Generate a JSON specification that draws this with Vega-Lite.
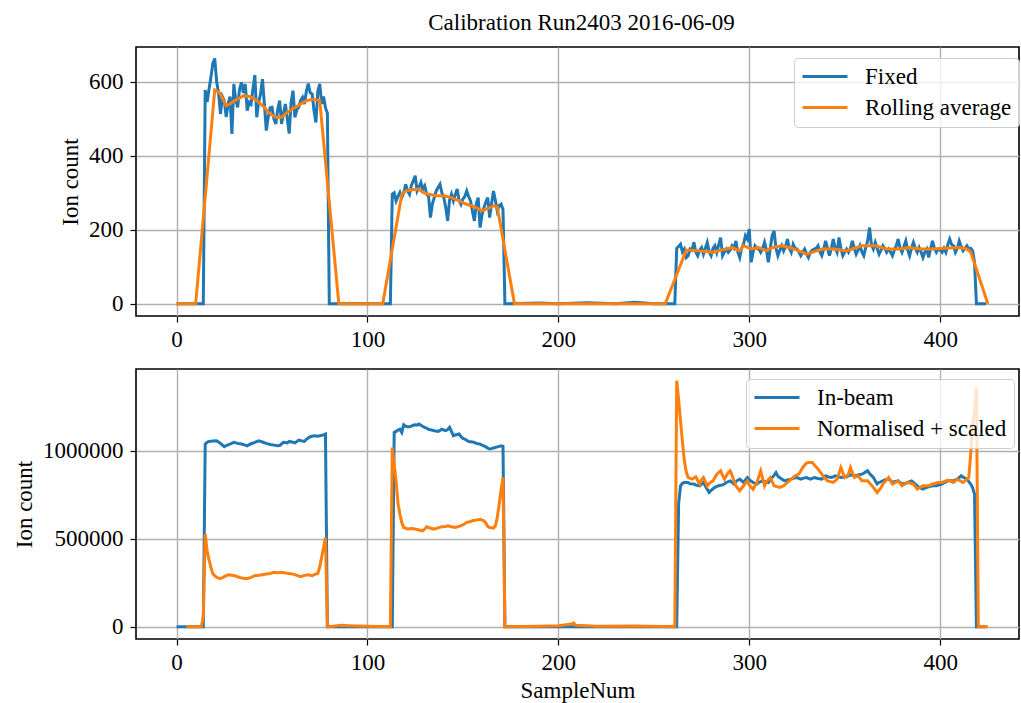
{
"$schema": "https://vega.github.io/schema/vega-lite/v6.json",
"padding": {"left": 12, "top": 11, "right": 0, "bottom": 0},
"background": "white",
"spacing": 16,
"config": {
  "font": "Liberation Serif",
  "view": {"stroke": "black", "strokeWidth": 1.6},
  "axis": {"labelFont": "Liberation Serif", "titleFont": "Liberation Serif", "labelFontSize": 23, "titleFontSize": 23, "titleFontWeight": "normal", "labelColor": "black", "titleColor": "black", "domain": false, "tickColor": "black", "tickSize": 6, "tickWidth": 1.2, "gridColor": "#b0b0b0", "gridWidth": 1.4, "gridOpacity": 1, "labelPadding": 6},
  "axisY": {"titlePadding": 6, "labelPadding": 7},
  "legend": {"labelFont": "Liberation Serif", "labelFontSize": 23, "labelColor": "black", "symbolType": "M-1,0L3.5,0", "symbolStrokeWidth": 3, "symbolSize": 400, "labelOffset": 41, "padding": 7, "rowPadding": 7, "fillColor": "rgba(255,255,255,0.8)", "strokeColor": "#cccccc", "cornerRadius": 4, "labelLimit": 400},
  "title": {"font": "Liberation Serif", "fontSize": 23, "fontWeight": "normal", "color": "black"}
},
"resolve": {"scale": {"color": "independent"}, "legend": {"color": "independent"}},
"datasets": {
"topFixed": [{"x":0,"y":0},{"x":14,"y":0},{"x":15,"y":578},{"x":16,"y":545},{"x":17,"y":580},{"x":18,"y":612},{"x":19,"y":650},{"x":20,"y":663},{"x":21,"y":600},{"x":22,"y":570},{"x":23,"y":513},{"x":24,"y":560},{"x":25,"y":549},{"x":26,"y":505},{"x":27,"y":540},{"x":28,"y":560},{"x":29,"y":459},{"x":30,"y":594},{"x":31,"y":550},{"x":32,"y":531},{"x":33,"y":580},{"x":34,"y":598},{"x":35,"y":570},{"x":36,"y":594},{"x":37,"y":522},{"x":38,"y":545},{"x":39,"y":540},{"x":40,"y":580},{"x":41,"y":618},{"x":42,"y":504},{"x":43,"y":545},{"x":44,"y":567},{"x":45,"y":607},{"x":46,"y":540},{"x":47,"y":468},{"x":48,"y":504},{"x":49,"y":530},{"x":50,"y":531},{"x":51,"y":500},{"x":52,"y":486},{"x":53,"y":525},{"x":54,"y":549},{"x":55,"y":486},{"x":56,"y":515},{"x":57,"y":540},{"x":58,"y":500},{"x":59,"y":460},{"x":60,"y":545},{"x":61,"y":576},{"x":62,"y":504},{"x":63,"y":525},{"x":64,"y":531},{"x":65,"y":550},{"x":66,"y":558},{"x":67,"y":540},{"x":68,"y":575},{"x":69,"y":595},{"x":70,"y":570},{"x":71,"y":567},{"x":72,"y":522},{"x":73,"y":490},{"x":74,"y":575},{"x":75,"y":594},{"x":76,"y":540},{"x":77,"y":560},{"x":78,"y":530},{"x":79,"y":515},{"x":80,"y":0},{"x":95,"y":1},{"x":100,"y":0},{"x":112,"y":0},
{"x":113,"y":296},{"x":114,"y":300},{"x":115,"y":278},{"x":116,"y":290},{"x":117,"y":301},{"x":118,"y":287},{"x":119,"y":300},{"x":120,"y":323},{"x":121,"y":305},{"x":122,"y":296},{"x":123,"y":320},{"x":124,"y":332},{"x":125,"y":346},{"x":126,"y":305},{"x":127,"y":315},{"x":128,"y":328},{"x":129,"y":310},{"x":130,"y":319},{"x":131,"y":296},{"x":132,"y":290},{"x":133,"y":233},{"x":134,"y":270},{"x":135,"y":287},{"x":136,"y":305},{"x":137,"y":314},{"x":138,"y":323},{"x":139,"y":300},{"x":140,"y":287},{"x":141,"y":260},{"x":142,"y":224},{"x":143,"y":280},{"x":144,"y":296},{"x":145,"y":278},{"x":146,"y":295},{"x":147,"y":310},{"x":148,"y":280},{"x":149,"y":269},{"x":150,"y":283},{"x":151,"y":290},{"x":152,"y":305},{"x":153,"y":290},{"x":154,"y":278},{"x":155,"y":250},{"x":156,"y":224},{"x":157,"y":270},{"x":158,"y":287},{"x":159,"y":206},{"x":160,"y":240},{"x":161,"y":260},{"x":162,"y":275},{"x":163,"y":287},{"x":164,"y":233},{"x":165,"y":270},{"x":166,"y":305},{"x":167,"y":280},{"x":168,"y":251},{"x":169,"y":265},{"x":170,"y":269},{"x":171,"y":255},{"x":172,"y":0},{"x":190,"y":2},{"x":200,"y":0},{"x":215,"y":3},{"x":230,"y":0},{"x":240,"y":4},{"x":250,"y":0},{"x":261,"y":0},
{"x":262,"y":150},{"x":263,"y":155},{"x":264,"y":161},{"x":265,"y":140},{"x":266,"y":148},{"x":267,"y":125},{"x":268,"y":130},{"x":269,"y":148},{"x":270,"y":145},{"x":271,"y":166},{"x":272,"y":140},{"x":273,"y":130},{"x":274,"y":145},{"x":275,"y":152},{"x":276,"y":134},{"x":277,"y":150},{"x":278,"y":166},{"x":279,"y":140},{"x":280,"y":130},{"x":281,"y":150},{"x":282,"y":157},{"x":283,"y":139},{"x":284,"y":160},{"x":285,"y":179},{"x":286,"y":130},{"x":287,"y":140},{"x":288,"y":148},{"x":289,"y":139},{"x":290,"y":145},{"x":291,"y":157},{"x":292,"y":150},{"x":293,"y":170},{"x":294,"y":140},{"x":295,"y":125},{"x":296,"y":150},{"x":297,"y":161},{"x":298,"y":184},{"x":299,"y":175},{"x":300,"y":202},{"x":301,"y":112},{"x":302,"y":140},{"x":303,"y":157},{"x":304,"y":150},{"x":305,"y":148},{"x":306,"y":139},{"x":307,"y":150},{"x":308,"y":166},{"x":309,"y":145},{"x":310,"y":112},{"x":311,"y":150},{"x":312,"y":184},{"x":313,"y":197},{"x":314,"y":150},{"x":315,"y":130},{"x":316,"y":145},{"x":317,"y":157},{"x":318,"y":143},{"x":319,"y":155},{"x":320,"y":175},{"x":321,"y":150},{"x":322,"y":139},{"x":323,"y":161},{"x":324,"y":150},{"x":325,"y":148},{"x":326,"y":140},{"x":327,"y":130},{"x":328,"y":140},{"x":329,"y":148},{"x":330,"y":135},{"x":331,"y":125},{"x":332,"y":139},{"x":333,"y":145},{"x":334,"y":148},{"x":335,"y":150},{"x":336,"y":157},{"x":337,"y":140},{"x":338,"y":130},{"x":339,"y":148},{"x":340,"y":170},{"x":341,"y":150},{"x":342,"y":130},{"x":343,"y":150},{"x":344,"y":175},{"x":345,"y":150},{"x":346,"y":139},{"x":347,"y":179},{"x":348,"y":150},{"x":349,"y":130},{"x":350,"y":140},{"x":351,"y":148},{"x":352,"y":139},{"x":353,"y":150},{"x":354,"y":170},{"x":355,"y":150},{"x":356,"y":134},{"x":357,"y":145},{"x":358,"y":157},{"x":359,"y":140},{"x":360,"y":130},{"x":361,"y":152},{"x":362,"y":170},{"x":363,"y":206},{"x":364,"y":160},{"x":365,"y":148},{"x":366,"y":166},{"x":367,"y":150},{"x":368,"y":134},{"x":369,"y":145},{"x":370,"y":157},{"x":371,"y":150},{"x":372,"y":139},{"x":373,"y":148},{"x":374,"y":140},{"x":375,"y":130},{"x":376,"y":145},{"x":377,"y":157},{"x":378,"y":175},{"x":379,"y":150},{"x":380,"y":139},{"x":381,"y":155},{"x":382,"y":170},{"x":383,"y":145},{"x":384,"y":130},{"x":385,"y":150},{"x":386,"y":166},{"x":387,"y":150},{"x":388,"y":139},{"x":389,"y":152},{"x":390,"y":140},{"x":391,"y":125},{"x":392,"y":140},{"x":393,"y":148},{"x":394,"y":125},{"x":395,"y":150},{"x":396,"y":170},{"x":397,"y":150},{"x":398,"y":139},{"x":399,"y":148},{"x":400,"y":145},{"x":401,"y":139},{"x":402,"y":150},{"x":403,"y":139},{"x":404,"y":160},{"x":405,"y":175},{"x":406,"y":160},{"x":407,"y":157},{"x":408,"y":139},{"x":409,"y":150},{"x":410,"y":170},{"x":411,"y":155},{"x":412,"y":143},{"x":413,"y":150},{"x":414,"y":157},{"x":415,"y":148},{"x":416,"y":150},{"x":417,"y":143},{"x":418,"y":112},{"x":419,"y":0},{"x":424,"y":0}],
"topRoll": [{"x":0,"y":0},{"x":10,"y":0},{"x":20,"y":578},{"x":22,"y":572},{"x":23,"y":567},{"x":26,"y":535},{"x":28,"y":540},{"x":30,"y":548},{"x":32,"y":553},{"x":35,"y":562},{"x":38,"y":560},{"x":40,"y":556},{"x":42,"y":549},{"x":44,"y":540},{"x":46,"y":531},{"x":48,"y":518},{"x":50,"y":510},{"x":52,"y":504},{"x":55,"y":504},{"x":58,"y":518},{"x":61,"y":527},{"x":63,"y":533},{"x":65,"y":540},{"x":68,"y":549},{"x":72,"y":553},{"x":75,"y":549},{"x":85,"y":0},{"x":108,"y":0},{"x":118,"y":296},{"x":120,"y":305},{"x":123,"y":308},{"x":127,"y":310},{"x":129,"y":301},{"x":132,"y":296},{"x":136,"y":292},{"x":140,"y":292},{"x":144,"y":287},{"x":148,"y":278},{"x":152,"y":269},{"x":157,"y":260},{"x":160,"y":251},{"x":164,"y":260},{"x":166,"y":265},{"x":168,"y":262},{"x":177,"y":0},{"x":256,"y":0},{"x":267,"y":145},{"x":270,"y":145},{"x":274,"y":143},{"x":281,"y":139},{"x":285,"y":145},{"x":288,"y":148},{"x":291,"y":152},{"x":295,"y":143},{"x":297,"y":157},{"x":301,"y":148},{"x":305,"y":152},{"x":309,"y":143},{"x":312,"y":152},{"x":317,"y":157},{"x":321,"y":152},{"x":326,"y":143},{"x":330,"y":134},{"x":333,"y":139},{"x":338,"y":148},{"x":344,"y":148},{"x":351,"y":143},{"x":355,"y":150},{"x":359,"y":157},{"x":366,"y":157},{"x":372,"y":148},{"x":379,"y":148},{"x":384,"y":152},{"x":389,"y":148},{"x":396,"y":148},{"x":403,"y":150},{"x":410,"y":152},{"x":414,"y":148},{"x":416,"y":140},{"x":425,"y":0}],
"botBeam": [{"x":0,"y":0},{"x":14,"y":0},{"x":15,"y":1038000},{"x":16,"y":1048000},{"x":17,"y":1053000},{"x":19,"y":1055000},{"x":21,"y":1057000},{"x":23,"y":1042000},{"x":25,"y":1023000},{"x":26,"y":1030000},{"x":28,"y":1038000},{"x":30,"y":1048000},{"x":32,"y":1042000},{"x":34,"y":1038000},{"x":36,"y":1032000},{"x":37,"y":1028000},{"x":39,"y":1040000},{"x":41,"y":1048000},{"x":43,"y":1057000},{"x":45,"y":1050000},{"x":47,"y":1042000},{"x":49,"y":1036000},{"x":51,"y":1032000},{"x":53,"y":1028000},{"x":54,"y":1030000},{"x":56,"y":1048000},{"x":58,"y":1045000},{"x":59,"y":1053000},{"x":61,"y":1048000},{"x":62,"y":1045000},{"x":64,"y":1061000},{"x":66,"y":1055000},{"x":67,"y":1053000},{"x":68,"y":1065000},{"x":70,"y":1080000},{"x":72,"y":1085000},{"x":74,"y":1082000},{"x":75,"y":1085000},{"x":77,"y":1090000},{"x":78,"y":1095000},{"x":79,"y":0},{"x":113,"y":0},{"x":114,"y":1104000},{"x":115,"y":1110000},{"x":116,"y":1118000},{"x":117,"y":1123000},{"x":118,"y":1104000},{"x":119,"y":1148000},{"x":120,"y":1140000},{"x":121,"y":1136000},{"x":122,"y":1136000},{"x":123,"y":1140000},{"x":124,"y":1145000},{"x":125,"y":1148000},{"x":126,"y":1146000},{"x":127,"y":1152000},{"x":128,"y":1145000},{"x":129,"y":1138000},{"x":130,"y":1133000},{"x":131,"y":1128000},{"x":132,"y":1122000},{"x":133,"y":1119000},{"x":135,"y":1114000},{"x":137,"y":1110000},{"x":138,"y":1116000},{"x":139,"y":1123000},{"x":140,"y":1118000},{"x":141,"y":1114000},{"x":142,"y":1120000},{"x":143,"y":1133000},{"x":144,"y":1110000},{"x":145,"y":1085000},{"x":146,"y":1090000},{"x":148,"y":1095000},{"x":149,"y":1080000},{"x":150,"y":1070000},{"x":151,"y":1066000},{"x":152,"y":1060000},{"x":153,"y":1053000},{"x":155,"y":1050000},{"x":156,"y":1048000},{"x":157,"y":1042000},{"x":158,"y":1040000},{"x":159,"y":1038000},{"x":160,"y":1032000},{"x":161,"y":1028000},{"x":162,"y":1022000},{"x":163,"y":1015000},{"x":164,"y":1010000},{"x":165,"y":1012000},{"x":166,"y":1016000},{"x":167,"y":1019000},{"x":168,"y":1022000},{"x":169,"y":1025000},{"x":170,"y":1028000},{"x":171,"y":1025000},{"x":172,"y":0},{"x":262,"y":0},{"x":263,"y":700000},{"x":264,"y":801000},{"x":265,"y":815000},{"x":266,"y":820000},{"x":268,"y":820000},{"x":269,"y":812000},{"x":271,"y":811000},{"x":272,"y":805000},{"x":274,"y":801000},{"x":275,"y":812000},{"x":276,"y":820000},{"x":277,"y":800000},{"x":279,"y":763000},{"x":280,"y":775000},{"x":282,"y":792000},{"x":283,"y":798000},{"x":284,"y":801000},{"x":286,"y":806000},{"x":287,"y":811000},{"x":288,"y":820000},{"x":290,"y":829000},{"x":291,"y":820000},{"x":292,"y":811000},{"x":293,"y":825000},{"x":295,"y":839000},{"x":296,"y":830000},{"x":297,"y":820000},{"x":298,"y":835000},{"x":299,"y":848000},{"x":300,"y":835000},{"x":302,"y":820000},{"x":303,"y":815000},{"x":304,"y":811000},{"x":305,"y":820000},{"x":307,"y":829000},{"x":308,"y":825000},{"x":310,"y":820000},{"x":311,"y":835000},{"x":312,"y":848000},{"x":313,"y":860000},{"x":314,"y":876000},{"x":315,"y":855000},{"x":317,"y":839000},{"x":318,"y":832000},{"x":319,"y":829000},{"x":320,"y":835000},{"x":322,"y":839000},{"x":323,"y":843000},{"x":325,"y":848000},{"x":326,"y":843000},{"x":327,"y":839000},{"x":328,"y":843000},{"x":330,"y":848000},{"x":331,"y":843000},{"x":332,"y":839000},{"x":334,"y":848000},{"x":335,"y":845000},{"x":336,"y":842000},{"x":338,"y":839000},{"x":339,"y":848000},{"x":340,"y":858000},{"x":341,"y":852000},{"x":343,"y":848000},{"x":344,"y":852000},{"x":345,"y":858000},{"x":347,"y":852000},{"x":348,"y":848000},{"x":349,"y":850000},{"x":351,"y":852000},{"x":352,"y":858000},{"x":353,"y":863000},{"x":354,"y":860000},{"x":356,"y":858000},{"x":357,"y":862000},{"x":359,"y":867000},{"x":360,"y":872000},{"x":361,"y":880000},{"x":362,"y":886000},{"x":363,"y":870000},{"x":365,"y":848000},{"x":366,"y":830000},{"x":367,"y":811000},{"x":368,"y":820000},{"x":370,"y":829000},{"x":371,"y":834000},{"x":373,"y":839000},{"x":374,"y":830000},{"x":375,"y":820000},{"x":376,"y":825000},{"x":378,"y":829000},{"x":379,"y":820000},{"x":380,"y":811000},{"x":382,"y":816000},{"x":383,"y":820000},{"x":385,"y":829000},{"x":386,"y":820000},{"x":388,"y":801000},{"x":389,"y":792000},{"x":391,"y":782000},{"x":392,"y":787000},{"x":393,"y":792000},{"x":395,"y":798000},{"x":396,"y":801000},{"x":398,"y":801000},{"x":399,"y":805000},{"x":401,"y":811000},{"x":402,"y":818000},{"x":404,"y":829000},{"x":405,"y":829000},{"x":407,"y":829000},{"x":408,"y":835000},{"x":409,"y":839000},{"x":410,"y":848000},{"x":411,"y":858000},{"x":412,"y":850000},{"x":414,"y":839000},{"x":415,"y":825000},{"x":416,"y":811000},{"x":417,"y":790000},{"x":418,"y":754000},{"x":419,"y":0},{"x":424,"y":0}],
"botNorm": [{"x":5,"y":0},{"x":13,"y":0},{"x":14,"y":60000},{"x":15,"y":527000},{"x":16,"y":432000},{"x":17,"y":380000},{"x":18,"y":337000},{"x":19,"y":300000},{"x":21,"y":280000},{"x":23,"y":273000},{"x":25,"y":285000},{"x":27,"y":295000},{"x":29,"y":292000},{"x":31,"y":288000},{"x":33,"y":280000},{"x":35,"y":276000},{"x":37,"y":273000},{"x":39,"y":280000},{"x":41,"y":290000},{"x":43,"y":293000},{"x":45,"y":295000},{"x":47,"y":300000},{"x":49,"y":303000},{"x":51,"y":309000},{"x":53,"y":307000},{"x":55,"y":309000},{"x":57,"y":305000},{"x":59,"y":303000},{"x":61,"y":299000},{"x":63,"y":292000},{"x":65,"y":284000},{"x":67,"y":292000},{"x":69,"y":295000},{"x":71,"y":290000},{"x":73,"y":300000},{"x":74,"y":303000},{"x":75,"y":340000},{"x":76,"y":394000},{"x":77,"y":450000},{"x":78,"y":507000},{"x":79,"y":0},{"x":82,"y":3000},{"x":86,"y":8000},{"x":90,"y":6000},{"x":95,"y":4000},{"x":100,"y":3000},{"x":112,"y":0},{"x":113,"y":1019000},{"x":114,"y":920000},{"x":115,"y":830000},{"x":116,"y":700000},{"x":117,"y":640000},{"x":118,"y":590000},{"x":119,"y":564000},{"x":121,"y":555000},{"x":123,"y":558000},{"x":125,"y":555000},{"x":127,"y":550000},{"x":129,"y":545000},{"x":130,"y":555000},{"x":131,"y":568000},{"x":133,"y":560000},{"x":135,"y":555000},{"x":137,"y":562000},{"x":139,"y":568000},{"x":141,"y":570000},{"x":142,"y":574000},{"x":144,"y":568000},{"x":146,"y":564000},{"x":148,"y":570000},{"x":149,"y":574000},{"x":151,"y":585000},{"x":152,"y":593000},{"x":154,"y":598000},{"x":155,"y":602000},{"x":157,"y":606000},{"x":159,"y":611000},{"x":161,"y":602000},{"x":162,"y":590000},{"x":163,"y":570000},{"x":164,"y":564000},{"x":166,"y":560000},{"x":167,"y":574000},{"x":168,"y":620000},{"x":169,"y":697000},{"x":170,"y":780000},{"x":171,"y":848000},{"x":172,"y":0},{"x":190,"y":3000},{"x":200,"y":5000},{"x":207,"y":15000},{"x":208,"y":21000},{"x":209,"y":8000},{"x":220,"y":3000},{"x":240,"y":4000},{"x":261,"y":0},{"x":262,"y":1398000},{"x":263,"y":1290000},{"x":264,"y":1170000},{"x":265,"y":1050000},{"x":266,"y":943000},{"x":267,"y":880000},{"x":268,"y":848000},{"x":270,"y":839000},{"x":272,"y":852000},{"x":273,"y":830000},{"x":274,"y":811000},{"x":275,"y":835000},{"x":276,"y":848000},{"x":278,"y":801000},{"x":279,"y":815000},{"x":281,"y":829000},{"x":283,"y":867000},{"x":285,"y":886000},{"x":286,"y":860000},{"x":287,"y":839000},{"x":289,"y":876000},{"x":290,"y":886000},{"x":291,"y":860000},{"x":292,"y":829000},{"x":293,"y":800000},{"x":295,"y":773000},{"x":297,"y":801000},{"x":299,"y":829000},{"x":300,"y":805000},{"x":302,"y":782000},{"x":304,"y":820000},{"x":306,"y":886000},{"x":308,"y":801000},{"x":309,"y":825000},{"x":311,"y":848000},{"x":312,"y":825000},{"x":313,"y":801000},{"x":316,"y":792000},{"x":318,"y":801000},{"x":321,"y":829000},{"x":324,"y":858000},{"x":326,"y":867000},{"x":328,"y":905000},{"x":330,"y":930000},{"x":331,"y":934000},{"x":333,"y":934000},{"x":334,"y":920000},{"x":336,"y":896000},{"x":338,"y":867000},{"x":339,"y":850000},{"x":341,"y":829000},{"x":344,"y":820000},{"x":346,"y":839000},{"x":348,"y":905000},{"x":350,"y":848000},{"x":352,"y":867000},{"x":353,"y":905000},{"x":355,"y":848000},{"x":357,"y":858000},{"x":359,"y":829000},{"x":362,"y":829000},{"x":365,"y":792000},{"x":367,"y":763000},{"x":369,"y":790000},{"x":370,"y":811000},{"x":373,"y":848000},{"x":375,"y":811000},{"x":378,"y":829000},{"x":380,"y":801000},{"x":383,"y":820000},{"x":386,"y":811000},{"x":388,"y":782000},{"x":391,"y":801000},{"x":394,"y":801000},{"x":396,"y":811000},{"x":399,"y":820000},{"x":401,"y":820000},{"x":404,"y":833000},{"x":407,"y":820000},{"x":409,"y":839000},{"x":412,"y":820000},{"x":415,"y":848000},{"x":416,"y":981000},{"x":417,"y":1150000},{"x":418,"y":1227000},{"x":419,"y":1360000},{"x":420,"y":0},{"x":425,"y":0}]
},
"vconcat": [
{
  "title": {"text": "Calibration Run2403 2016-06-09", "anchor": "middle", "frame": "group", "offset": 12, "dx": 4},
  "width": 883, "height": 269,
  "layer": [
    {"data": {"name": "topFixed"}, "mark": {"type": "line", "strokeWidth": 3, "clip": true},
     "encoding": {
       "x": {"field": "x", "type": "quantitative", "scale": {"domain": [-21.25, 441.3], "nice": false, "zero": false}, "axis": {"values": [0, 100, 200, 300, 400], "title": null}},
       "y": {"field": "y", "type": "quantitative", "scale": {"domain": [-33, 694], "nice": false}, "axis": {"values": [0, 200, 400, 600], "title": "Ion count"}},
       "color": {"datum": "Fixed", "type": "nominal", "scale": {"domain": ["Fixed", "Rolling average"], "range": ["#1f77b4", "#ff7f0e"]}, "legend": {"title": null, "orient": "none", "legendX": 658, "legendY": 11}}
     }},
    {"data": {"name": "topRoll"}, "mark": {"type": "line", "strokeWidth": 3, "clip": true},
     "encoding": {
       "x": {"field": "x", "type": "quantitative"},
       "y": {"field": "y", "type": "quantitative"},
       "color": {"datum": "Rolling average", "type": "nominal"}
     }}
  ]
},
{
  "width": 883, "height": 270,
  "layer": [
    {"data": {"name": "botBeam"}, "mark": {"type": "line", "strokeWidth": 3, "clip": true},
     "encoding": {
       "x": {"field": "x", "type": "quantitative", "scale": {"domain": [-21.25, 441.3], "nice": false, "zero": false}, "axis": {"values": [0, 100, 200, 300, 400], "title": "SampleNum", "titlePadding": 5}},
       "y": {"field": "y", "type": "quantitative", "scale": {"domain": [-69750, 1464750], "nice": false}, "axis": {"values": [0, 500000, 1000000], "format": "d", "title": "Ion count"}},
       "color": {"datum": "In-beam", "type": "nominal", "scale": {"domain": ["In-beam", "Normalised + scaled"], "range": ["#1f77b4", "#ff7f0e"]}, "legend": {"title": null, "orient": "none", "legendX": 610, "legendY": 10}}
     }},
    {"data": {"name": "botNorm"}, "mark": {"type": "line", "strokeWidth": 3, "clip": true},
     "encoding": {
       "x": {"field": "x", "type": "quantitative"},
       "y": {"field": "y", "type": "quantitative"},
       "color": {"datum": "Normalised + scaled", "type": "nominal"}
     }}
  ]
}
]
}
